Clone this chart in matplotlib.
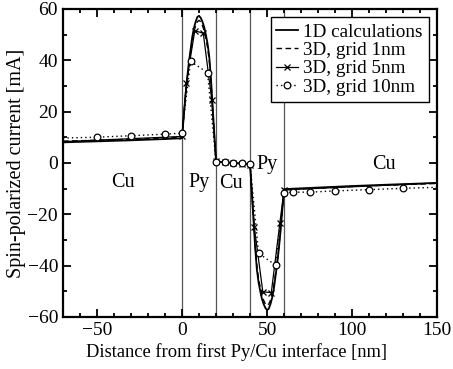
import matplotlib
matplotlib.use("Agg")
import matplotlib.pyplot as plt
from matplotlib.ticker import MultipleLocator

plt.rcParams['font.family'] = ['Liberation Serif', 'DejaVu Serif']
plt.rcParams['mathtext.fontset'] = 'stix'

# 1D calculations
x_1d = [-70, -50, -30, -10, 0,
        0, 1, 2, 3, 4, 5, 6, 7, 8, 9, 10, 11, 12, 13, 14, 15, 16, 17, 18, 19, 20,
        20, 30, 40,
        40, 41, 42, 43, 44, 45, 46, 47, 48, 49, 50, 51, 52, 53, 54, 55, 56, 57, 58, 59, 60,
        60, 80, 100, 120, 150]
y_1d = [8.0, 8.4, 8.8, 9.3, 9.6,
        9.6, 18, 26, 33, 39, 44, 49, 52.5, 55, 56.8, 57.3, 56.5, 55, 53, 50, 46.5, 41.5, 33, 22, 11, 0.5,
        0.5, 0.0, -0.5,
        -0.5, -11, -22, -33, -41.5, -46.5, -50, -53, -55, -56.5, -57.3, -56.8, -55, -52.5, -49, -44, -39, -33, -26, -18, -10.2,
        -10.2, -9.6, -9.0, -8.5, -7.8]

# 3D, grid 1nm
x_1nm = [-70, -50, -30, -10, 0,
         0, 1, 2, 3, 4, 5, 6, 7, 8, 9, 10, 11, 12, 13, 14, 15, 16, 17, 18, 19, 20,
         20, 30, 40,
         40, 41, 42, 43, 44, 45, 46, 47, 48, 49, 50, 51, 52, 53, 54, 55, 56, 57, 58, 59, 60,
         60, 80, 100, 120, 150]
y_1nm = [8.5, 8.8, 9.2, 9.7, 10.0,
         10.0, 18, 25.5, 32, 38, 43, 47.5, 51, 53.5, 55, 55.5, 55, 53.5, 51.5, 48.5, 45, 40, 32, 21.5, 11, 0.6,
         0.6, 0.0, -0.6,
         -0.6, -11, -21.5, -32, -40, -45, -48.5, -51.5, -53.5, -55, -55.5, -55, -53.5, -51, -47.5, -43, -38, -32, -25.5, -18, -10.5,
         -10.5, -9.8, -9.2, -8.7, -8.0]

# 3D, grid 5nm
x_5nm = [-70, 0, 2.5, 7.5, 12.5, 17.5, 20, 25, 30, 35, 40, 42.5, 47.5, 52.5, 57.5, 60, 150]
y_5nm = [8.3, 10.3, 31, 51.5, 50.5, 24.5, 0.8, 0.3, 0.0, -0.3, -0.8, -25, -50.2, -50.5, -23.5, -10.5, -7.8]

# 3D, grid 10nm
x_10nm = [-70, -50, -30, -10, 0, 5, 15, 20, 25, 30, 35, 40, 45, 55, 60, 65, 75, 90, 110, 130, 150]
y_10nm = [9.7, 10.0, 10.6, 11.2, 11.6, 39.5, 35.2, 0.3, 0.2, 0.0, -0.2, -0.3, -35.2, -39.8, -11.6,
          -11.4, -11.4, -10.9, -10.4, -9.9, -9.5]

interfaces = [0, 20, 40, 60]
region_labels = ["Cu", "Py", "Cu", "Py", "Cu"]
region_x = [-35, 10, 29, 50, 119]
region_y = [-7.5, -7.5, -8, -0.5, -0.5]

fig = plt.figure(figsize=(4.53, 3.69), dpi=100)
ax = fig.add_axes([0.139, 0.141, 0.826, 0.835])

for xi in interfaces:
    ax.axvline(xi, color='#555555', lw=0.9, zorder=1)

ax.plot(x_1d, y_1d, color='black', lw=1.3, ls='-', label='1D calculations', zorder=3)
ax.plot(x_1nm, y_1nm, color='black', lw=1.0, ls=(0, (4, 2.5)), label='3D, grid 1nm', zorder=3)
ax.plot(x_5nm, y_5nm, color='black', lw=0.9, ls='-', marker='x', ms=4.5, mew=0.9,
        markevery=list(range(1, len(x_5nm) - 1)), label='3D, grid 5nm', zorder=4)
ax.plot(x_10nm, y_10nm, color='black', lw=1.0, ls=(0, (1, 2.2)), marker='o', ms=4.8, mew=0.9,
        mfc='white', markevery=list(range(1, len(x_10nm) - 1)), label='3D, grid 10nm', zorder=4)

for lab, lx, ly in zip(region_labels, region_x, region_y):
    ax.text(lx, ly, lab, ha='center', va='center', fontsize=14.5, zorder=5)

ax.set_xlim(-70, 150)
ax.set_ylim(-60, 60)
ax.xaxis.set_major_locator(MultipleLocator(50))
ax.xaxis.set_minor_locator(MultipleLocator(10))
ax.yaxis.set_major_locator(MultipleLocator(20))
ax.yaxis.set_minor_locator(MultipleLocator(10))
ax.tick_params(which='both', direction='in', top=True, right=True, labelsize=14, width=1.3)
ax.tick_params(which='major', length=6)
ax.tick_params(which='minor', length=3)
for s in ax.spines.values():
    s.set_linewidth(1.6)

ax.set_xlabel('Distance from first Py/Cu interface [nm]', fontsize=13.3)
ax.xaxis.set_label_coords(0.465, -0.085)
ax.set_ylabel('Spin-polarized current [mA]', fontsize=14.5)
ax.yaxis.set_label_coords(-0.1, 0.5)

leg = ax.legend(loc='upper right', fontsize=13.8, frameon=True, fancybox=False,
                edgecolor='black', framealpha=1, borderpad=0.3, labelspacing=0.05,
                handlelength=1.1, handletextpad=0.3, borderaxespad=0.45)
leg.get_frame().set_linewidth(1.0)

fig.savefig('out.png', dpi=100)
